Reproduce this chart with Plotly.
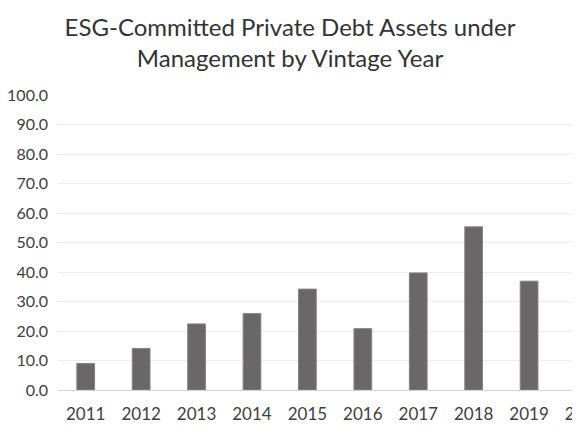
import plotly.graph_objects as go

# Vintage years and ESG-committed private debt AUM
years = ["2011", "2012", "2013", "2014", "2015", "2016", "2017", "2018", "2019", "2020"]
aum = [9.0, 14.1, 22.4, 25.9, 34.2, 20.8, 39.7, 55.3, 36.9, 85.7]
y_ticks = [0, 10, 20, 30, 40, 50, 60, 70, 80, 90, 100]

font_family = "Lato, 'Noto Sans', sans-serif"

# the page body adds an 8px margin; the figure runs past the right edge of
# the window so the last bar is cut off as in the source image
fig = go.Figure(
    go.Bar(
        x=years,
        y=aum,
        marker=dict(color="#696767", line=dict(color="#858383", width=1)),
        hoverinfo="x+y",
    )
)

fig_w = 607
fig_h = 419

fig.update_layout(
    width=fig_w,
    height=fig_h,
    margin=dict(l=50, r=0, t=87, b=37),
    paper_bgcolor="white",
    plot_bgcolor="white",
    bargap=0.68,
    showlegend=False,
    font=dict(family=font_family, size=17, color="#404040"),
    title=dict(
        text="ESG-Committed Private Debt Assets under<br>Management by Vintage Year",
        x=(290 - 8) / fig_w,
        xref="container",
        xanchor="center",
        y=1 - (36 - 8) / fig_h,
        yanchor="middle",
        font=dict(family=font_family, size=24, color="#333333"),
    ),
)

fig.update_xaxes(
    type="category",
    range=[-0.5, 9.55],
    showgrid=False,
    showline=False,
    ticks="",
    ticklabelstandoff=12,
    tickfont=dict(size=17, color="#404040"),
    automargin=False,
)

fig.update_yaxes(
    range=[0, 100],
    tickvals=y_ticks,
    ticktext=[f"{v:.1f}" for v in y_ticks],
    showgrid=True,
    gridcolor="#ececec",
    gridwidth=1,
    zeroline=True,
    zerolinecolor="#d4d4d4",
    zerolinewidth=1,
    showline=False,
    ticks="",
    ticklabelstandoff=9,
    tickfont=dict(size=16, color="#404040"),
    automargin=False,
)

fig.write_html("out.html")
